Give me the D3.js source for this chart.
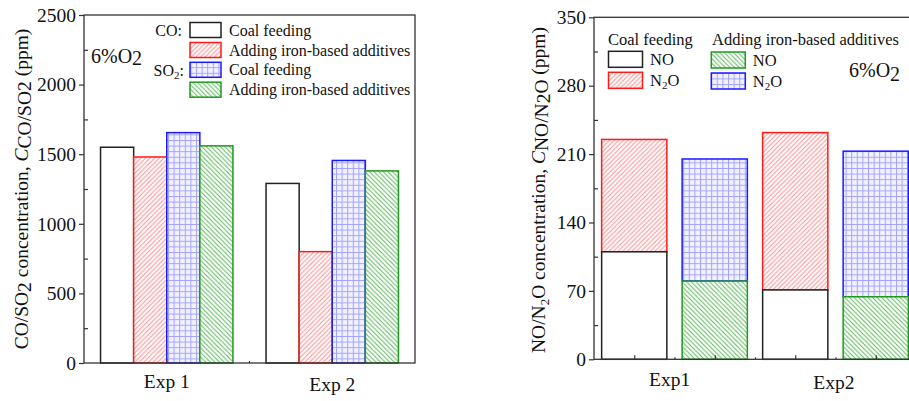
<!DOCTYPE html>
<html>
<head>
<meta charset="utf-8">
<script src="https://cdn.jsdelivr.net/npm/d3@7"></script>
<style>
  html, body { margin: 0; padding: 0; background: #fff; }
  svg { display: block; font-family: "Liberation Serif", "Times New Roman", serif; }
</style>
</head>
<body>
<svg id="chart" width="909" height="401"></svg>
<script>
// ---- Left panel: CO / SO2 concentrations ----
const categoriesL = ["Exp 1", "Exp 2"];
const coCoal = [1550, 1290];
const coIron = [1480, 800];
const so2Coal = [1655, 1455];
const so2Iron = [1560, 1380];
const yTicksL = [0, 500, 1000, 1500, 2000, 2500];

// ---- Right panel: NO / N2O concentrations (stacked) ----
const categoriesR = ["Exp1", "Exp2"];
const noCoal = [110, 71];
const n2oCoal = [115, 161];
const noIron = [80, 64];
const n2oIron = [125, 149];
const yTicksR = [0, 70, 140, 210, 280, 350];

const svg = d3.select("#chart");
const AX = "#333";

// fill patterns
const defs = svg.append("defs");
function hatch(id, color, dir, size) {
  const p = defs.append("pattern").attr("id", id).attr("patternUnits", "userSpaceOnUse")
    .attr("width", size).attr("height", size);
  p.append("rect").attr("width", size).attr("height", size).attr("fill", "#fff");
  const s = size;
  const d = dir === "/"
    ? `M0,${s} L${s},0 M${-s/2},${s/2} L${s/2},${-s/2} M${s/2},${s*1.5} L${s*1.5},${s/2}`
    : `M0,0 L${s},${s} M${-s/2},${s/2} L${s/2},${s*1.5} M${s/2},${-s/2} L${s*1.5},${s/2}`;
  p.append("path").attr("d", d).attr("stroke", color).attr("stroke-width", 1).attr("fill", "none");
}
hatch("redHatch", "#ff8c8c", "/", 4.6);
hatch("greenHatch", "#5cb85c", "\\", 4.6);
(function () {
  const s = 5.6;
  const p = defs.append("pattern").attr("id", "blueGrid").attr("patternUnits", "userSpaceOnUse")
    .attr("width", s).attr("height", s);
  p.append("rect").attr("width", s).attr("height", s).attr("fill", "#f1f1ff");
  p.append("path").attr("d", `M0,0.5 H${s} M0.5,0 V${s}`)
    .attr("stroke", "#a3a3ff").attr("stroke-width", 1).attr("fill", "none");
})();

const styles = {
  black: { fill: "#fff", stroke: "#222" },
  red: { fill: "url(#redHatch)", stroke: "#ff1a1a" },
  blue: { fill: "url(#blueGrid)", stroke: "#1a1aff" },
  green: { fill: "url(#greenHatch)", stroke: "#1f9a1f" }
};

function box(g, x, y, w, h, st) {
  g.append("rect").attr("x", x).attr("y", y).attr("width", w).attr("height", h)
    .attr("fill", styles[st].fill).attr("stroke", styles[st].stroke).attr("stroke-width", 1.5);
}

// ================= LEFT PANEL =================
const L = { left: 84, right: 415, top: 15, bottom: 363 };
const xL = d3.scaleBand().domain(categoriesL).range([L.left, L.right]).paddingInner(0.2).paddingOuter(0.1);
const xSub = d3.scaleBand().domain(["coCoal", "coIron", "so2Coal", "so2Iron"]).range([0, xL.bandwidth()]);
const yL = d3.scaleLinear().domain([0, 2500]).range([L.bottom, L.top]);
const gL = svg.append("g");

const seriesL = [
  { key: "coCoal", vals: coCoal, st: "black" },
  { key: "coIron", vals: coIron, st: "red" },
  { key: "so2Coal", vals: so2Coal, st: "blue" },
  { key: "so2Iron", vals: so2Iron, st: "green" }
];
seriesL.forEach(s => {
  s.vals.forEach((v, i) => {
    box(gL, xL(categoriesL[i]) + xSub(s.key), yL(v), xSub.bandwidth(), yL(0) - yL(v), s.st);
  });
});

// frame
gL.append("rect").attr("x", L.left).attr("y", L.top).attr("width", L.right - L.left)
  .attr("height", L.bottom - L.top).attr("fill", "none").attr("stroke", AX).attr("stroke-width", 1.3);

// y axis: major ticks outward with labels, minor ticks inward
const yAxisL = d3.axisLeft(yL).tickValues(yTicksL).tickSize(5).tickPadding(3).tickFormat(d3.format("d"));
const yaL = gL.append("g").attr("transform", `translate(${L.left},0)`).call(yAxisL);
yaL.select(".domain").remove();
yaL.selectAll("line").attr("stroke", AX).attr("stroke-width", 1.2);
yaL.selectAll("text").attr("font-size", 19.5).attr("fill", "#111").attr("font-family", "Liberation Serif");
const minorL = d3.range(250, 2500, 500);
gL.append("g").attr("transform", `translate(${L.left},0)`)
  .call(d3.axisRight(yL).tickValues(minorL).tickSize(4).tickFormat(""))
  .call(g => g.select(".domain").remove())
  .selectAll("line").attr("stroke", AX).attr("stroke-width", 1.2);

// x axis ticks (inside) and labels
const xtL = gL.append("g");
categoriesL.forEach(c => {
  const cx = xL(c) + xL.bandwidth() / 2;
  xtL.append("line").attr("x1", cx).attr("x2", cx).attr("y1", L.bottom).attr("y2", L.bottom - 4)
    .attr("stroke", AX).attr("stroke-width", 1.2);
});
const midL = (xL(categoriesL[0]) + xL.bandwidth() + xL(categoriesL[1])) / 2;
xtL.append("line").attr("x1", midL).attr("x2", midL).attr("y1", L.bottom).attr("y2", L.bottom - 2)
  .attr("stroke", AX).attr("stroke-width", 1.2);
categoriesL.forEach((c, i) => {
  gL.append("text").attr("x", xL(c) + xL.bandwidth() / 2).attr("y", i === 0 ? 387.5 : 391)
    .attr("text-anchor", "middle").attr("font-size", 19.5).attr("fill", "#111").text(c);
});

// y title
const tL = gL.append("text").attr("transform", "translate(28,189) rotate(-90)")
  .attr("text-anchor", "middle").attr("font-size", 19.5).attr("fill", "#111");
tL.append("tspan").text("CO/SO");
tL.append("tspan").attr("dy", 3).text("2");
tL.append("tspan").attr("dy", -3).text(" concentration, ");
tL.append("tspan").attr("font-style", "italic").text("C");
tL.append("tspan").attr("dy", 3).text("CO/SO2");
tL.append("tspan").attr("dy", -3).text(" (ppm)");

// 6%O2
const oL = gL.append("text").attr("x", 91).attr("y", 63).attr("font-size", 20).attr("fill", "#111");
oL.append("tspan").text("6%O");
oL.append("tspan").attr("dy", 2).text("2");

// legend
const lgL = gL.append("g");
const legRowsL = [
  { y: 22.5, st: "black", label: "Coal feeding", prefix: "CO:" },
  { y: 42.5, st: "red", label: "Adding iron-based additives" },
  { y: 62.3, st: "blue", label: "Coal feeding", prefix: "SO2:" },
  { y: 82.2, st: "green", label: "Adding iron-based additives" }
];
legRowsL.forEach(r => {
  box(lgL, 190, r.y, 31, 15, r.st);
  lgL.append("text").attr("x", 229).attr("y", r.y + 13).attr("font-size", 16).attr("fill", "#111").text(r.label);
  if (r.prefix === "CO:") {
    lgL.append("text").attr("x", 182).attr("y", r.y + 13.5).attr("text-anchor", "end")
      .attr("font-size", 16).attr("fill", "#111").text("CO:");
  } else if (r.prefix) {
    const t = lgL.append("text").attr("x", 184).attr("y", r.y + 13.5).attr("text-anchor", "end")
      .attr("font-size", 16).attr("fill", "#111");
    t.append("tspan").text("SO");
    t.append("tspan").attr("font-size", 11).attr("dy", 3).text("2");
    t.append("tspan").attr("dy", -3).text(":");
  }
});

// ================= RIGHT PANEL =================
const R = { left: 594, right: 916, top: 17.3, bottom: 359.3 };
const xR = d3.scaleLinear().domain([0.5, 4.5]).range([R.left, R.right]);
const yR = d3.scaleLinear().domain([0, 350]).range([R.bottom, R.top]);
const gR = svg.append("g");
const barW = xR(1.81) - xR(1);

categoriesR.forEach((c, i) => {
  const xc = 2 * i + 1, xi = 2 * i + 2;
  // coal feeding: NO (bottom) + N2O (top)
  box(gR, xR(xc) - barW / 2, yR(noCoal[i] + n2oCoal[i]), barW, yR(noCoal[i]) - yR(noCoal[i] + n2oCoal[i]), "red");
  box(gR, xR(xc) - barW / 2, yR(noCoal[i]), barW, yR(0) - yR(noCoal[i]), "black");
  // iron-based additives: NO (bottom) + N2O (top)
  box(gR, xR(xi) - barW / 2, yR(noIron[i] + n2oIron[i]), barW, yR(noIron[i]) - yR(noIron[i] + n2oIron[i]), "blue");
  box(gR, xR(xi) - barW / 2, yR(noIron[i]), barW, yR(0) - yR(noIron[i]), "green");
});

// frame
gR.append("rect").attr("x", R.left).attr("y", R.top).attr("width", R.right - R.left)
  .attr("height", R.bottom - R.top).attr("fill", "none").attr("stroke", AX).attr("stroke-width", 1.3);

const yaR = gR.append("g").attr("transform", `translate(${R.left},0)`)
  .call(d3.axisLeft(yR).tickValues(yTicksR).tickSize(5).tickPadding(3));
yaR.select(".domain").remove();
yaR.selectAll("line").attr("stroke", AX).attr("stroke-width", 1.2);
yaR.selectAll("text").attr("font-size", 19.5).attr("fill", "#111").attr("font-family", "Liberation Serif");
gR.append("g").attr("transform", `translate(${R.left},0)`)
  .call(d3.axisRight(yR).tickValues(d3.range(35, 350, 70)).tickSize(4).tickFormat(""))
  .call(g => g.select(".domain").remove())
  .selectAll("line").attr("stroke", AX).attr("stroke-width", 1.2);

// x ticks: major at bar centres, minor between
const xaR = gR.append("g").attr("transform", `translate(0,${R.bottom})`)
  .call(d3.axisTop(xR).tickValues([1, 2, 3, 4]).tickSize(4).tickFormat(""));
xaR.select(".domain").remove();
xaR.selectAll("line").attr("stroke", AX).attr("stroke-width", 1.2);
const xmR = gR.append("g").attr("transform", `translate(0,${R.bottom})`)
  .call(d3.axisTop(xR).tickValues([1.5, 2.5, 3.5]).tickSize(2).tickFormat(""));
xmR.select(".domain").remove();
xmR.selectAll("line").attr("stroke", AX).attr("stroke-width", 1.2);

categoriesR.forEach((c, i) => {
  gR.append("text").attr("x", xR(i === 0 ? 1.44 : 3.48)).attr("y", i === 0 ? 385.5 : 388.5)
    .attr("text-anchor", "middle").attr("font-size", 19.5).attr("fill", "#111").text(c);
});

// y title
const tR = gR.append("text").attr("transform", "translate(545,190) rotate(-90)")
  .attr("text-anchor", "middle").attr("font-size", 19.5).attr("fill", "#111");
tR.append("tspan").text("NO/N");
tR.append("tspan").attr("font-size", 13).attr("dy", 4).text("2");
tR.append("tspan").attr("dy", -4).text("O concentration, ");
tR.append("tspan").attr("font-style", "italic").text("C");
tR.append("tspan").attr("dy", 3).text("NO/N");
tR.append("tspan").attr("dy", 2).text("2");
tR.append("tspan").attr("dy", -2).text("O");
tR.append("tspan").attr("dy", -3).text(" (ppm)");

// 6%O2
const oR = gR.append("text").attr("x", 849).attr("y", 76.5).attr("font-size", 20).attr("fill", "#111");
oR.append("tspan").text("6%O");
oR.append("tspan").attr("dy", 4).text("2");

// legend
const lgR = gR.append("g");
lgR.append("text").attr("x", 608).attr("y", 45).attr("font-size", 16.5).attr("fill", "#111").text("Coal feeding");
lgR.append("text").attr("x", 712).attr("y", 45).attr("font-size", 16.5).attr("fill", "#111").text("Adding iron-based additives");
const legR = [
  { x: 608.5, y: 51.3, st: "black", sub: false },
  { x: 608.5, y: 72.3, st: "red", sub: true },
  { x: 711.3, y: 52, st: "green", sub: false },
  { x: 711.3, y: 73, st: "blue", sub: true }
];
legR.forEach(r => {
  box(lgR, r.x, r.y, 34, 16, r.st);
  const t = lgR.append("text").attr("x", r.x + 41.5).attr("y", r.y + 14).attr("font-size", 16.5).attr("fill", "#111");
  if (r.sub) {
    t.append("tspan").text("N");
    t.append("tspan").attr("font-size", 11).attr("dy", 3).text("2");
    t.append("tspan").attr("dy", -3).text("O");
  } else {
    t.text("NO");
  }
});
</script>
</body>
</html>
